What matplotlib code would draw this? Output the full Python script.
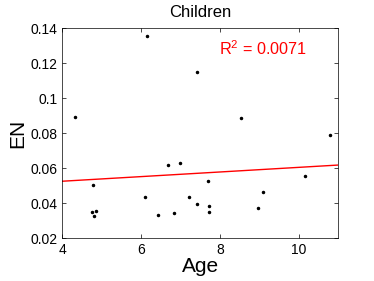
import numpy as np
import matplotlib
matplotlib.use('Agg')
import matplotlib.pyplot as plt

plt.rcParams['font.family'] = ['Liberation Sans', 'DejaVu Sans']

age = [4.34, 4.78, 4.77, 4.87, 4.82, 6.11, 6.16, 6.43, 6.69, 6.98, 6.85,
       7.21, 7.42, 7.42, 7.71, 7.72, 7.72, 8.53, 8.97, 9.09, 10.15, 10.79]
en = [0.0893, 0.0503, 0.0350, 0.0354, 0.0328, 0.0434, 0.1352, 0.0331, 0.0615,
      0.0627, 0.0343, 0.0436, 0.1149, 0.0396, 0.0526, 0.0381, 0.0350, 0.0888,
      0.0373, 0.0461, 0.0552, 0.0790]
xticks = [4, 6, 8, 10]
yticks = [0.02, 0.04, 0.06, 0.08, 0.1, 0.12, 0.14]
ytick_labels = ['0.02', '0.04', '0.06', '0.08', '0.1', '0.12', '0.14']

fig = plt.figure(figsize=(3.74, 2.81), dpi=100)
ax = fig.add_axes([0.166, 0.153, 0.738, 0.747])

ax.plot(age, en, 'k.', markersize=3)
slope, icpt = np.polyfit(age, en, 1)
xs = np.array([4, 11])
ax.plot(xs, slope * xs + icpt, color='red', linewidth=1)

ax.set_xlim(4, 11)
ax.set_ylim(0.02, 0.14)
ax.set_xticks(xticks)
ax.set_yticks(yticks)
ax.set_yticklabels(ytick_labels)
ax.tick_params(direction='in', top=True, right=True, labelsize=10, length=3, width=0.5)
for s in ax.spines.values():
    s.set_linewidth(0.5)

ax.set_xlabel('Age', fontsize=15, labelpad=0)
ax.set_ylabel('EN', fontsize=15, labelpad=2)
ax.set_title('Children', fontsize=12, pad=8)
ax.text(0.57, 0.87, '$\\mathregular{R^2}$ = 0.0071', transform=ax.transAxes,
        color='red', fontsize=11.7)

fig.savefig('out.png', dpi=100)
